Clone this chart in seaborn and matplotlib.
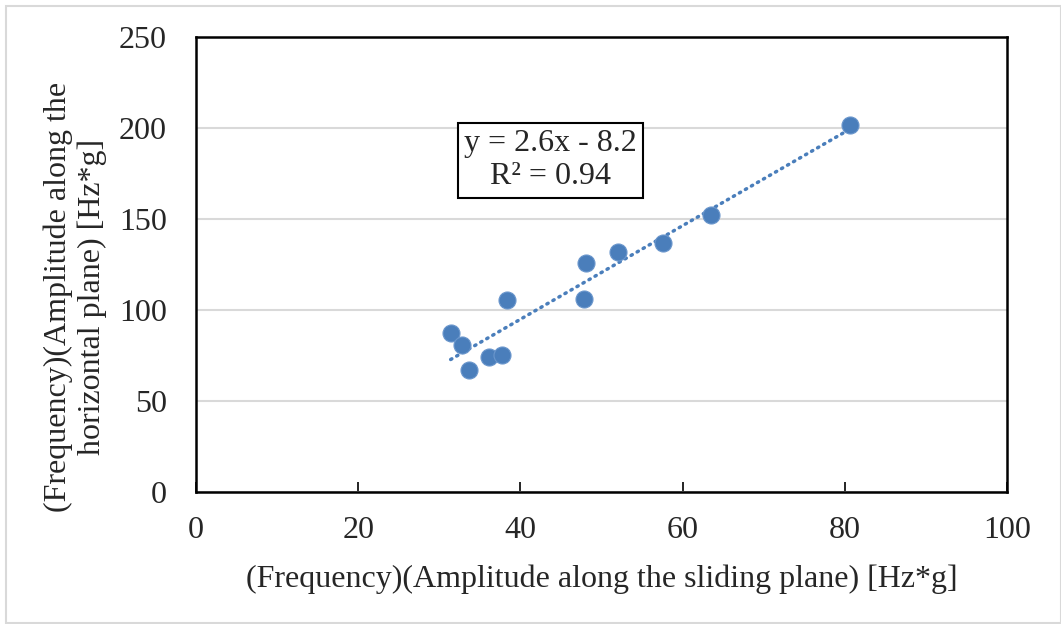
import matplotlib
matplotlib.use("Agg")
import matplotlib.pyplot as plt
import seaborn as sns
import pandas as pd
from matplotlib.patches import Rectangle

sliding = [31.4, 32.8, 33.7, 36.1, 37.7, 38.4, 47.9, 48.1, 52.0, 57.6, 63.5, 80.7]
horizontal = [87.5, 80.8, 67.0, 74.0, 75.1, 105.7, 106.2, 125.6, 131.7, 137.0, 152.2, 201.6]
x_ticks = [0, 20, 40, 60, 80, 100]
y_ticks = [0, 50, 100, 150, 200, 250]
eq_text = "y = 2.6x - 8.2\nR² = 0.94"
xlabel = "(Frequency)(Amplitude along the sliding plane) [Hz*g]"
ylabel = "(Frequency)(Amplitude along the\nhorizontal plane) [Hz*g]"

df = pd.DataFrame({"x": sliding, "y": horizontal})

sns.set_theme(style="white")
plt.rcParams["font.family"] = ["Liberation Serif", "DejaVu Serif"]
FS = 23

fig = plt.figure(figsize=(10.61, 6.24), dpi=100)
ax = fig.add_axes([196 / 1061, 1 - 492 / 624, (1007 - 196) / 1061, (492 - 37) / 624])

color = "#4A7EBB"
sns.regplot(data=df, x="x", y="y", ax=ax, ci=None, scatter=False,
            line_kws=dict(color=color, lw=2.5, linestyle=(0, (0.4, 1.6)),
                          dash_capstyle="round", zorder=2))
sns.scatterplot(data=df, x="x", y="y", ax=ax, s=150, color=color,
                edgecolor="#6A96CC", linewidth=0.8, zorder=3)

ax.set_xlim(0, 100)
ax.set_ylim(0, 250)
ax.set_xticks(x_ticks)
ax.set_yticks(y_ticks)
ax.set_xticklabels([str(v) for v in x_ticks], fontsize=FS)
ax.set_yticklabels([str(v) for v in y_ticks], fontsize=FS)
ax.tick_params(axis="x", direction="in", length=7, width=1.2, color="black", pad=17, bottom=True)
ax.tick_params(axis="y", length=0, pad=21)
ax.yaxis.grid(True, color="#D9D9D9", lw=1.5)
ax.set_axisbelow(True)
for s in ax.spines.values():
    s.set_visible(True)
    s.set_color("black")
    s.set_linewidth(1.8)
ax.set_xlabel(xlabel, fontsize=FS, labelpad=14)
ax.set_ylabel("")
fig.text(75 / 1061, 1 - 297 / 624, ylabel, rotation=90, ha="center", va="center",
         fontsize=FS, multialignment="center", linespacing=1.2)

ax.text(43.7, 182.3, eq_text, fontsize=FS, ha="center", va="center",
        multialignment="center", linespacing=1.2,
        bbox=dict(boxstyle="square,pad=0.2", fc="white", ec="black", lw=1.5), zorder=4)

fig.patches.append(Rectangle((6 / 1061, 1 / 624), 1 - 6 / 1061, 1 - 7 / 624,
                             transform=fig.transFigure, fill=False,
                             ec="#D9D9D9", lw=1.5))

fig.savefig("out.png", dpi=100)
